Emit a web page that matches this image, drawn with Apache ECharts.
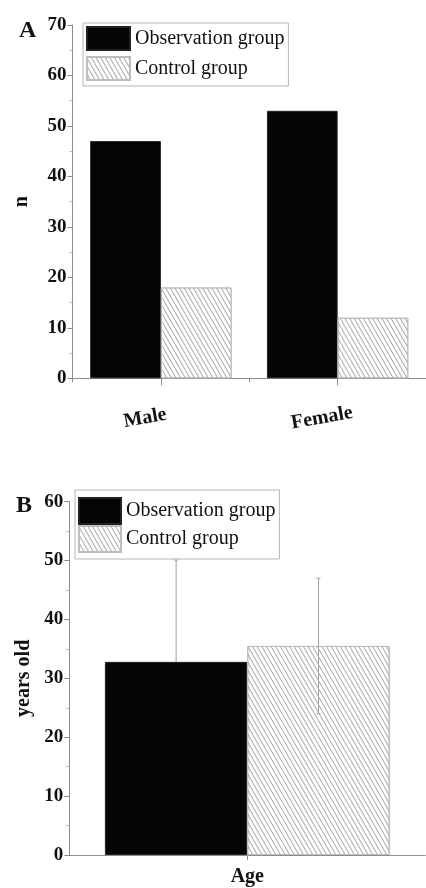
<!DOCTYPE html>
<html>
<head>
<meta charset="utf-8">
<script src="https://cdn.jsdelivr.net/npm/echarts@6/dist/echarts.min.js"></script>
<style>
html,body{margin:0;padding:0;background:#fff;}
#chart{width:426px;height:888px;}
</style>
</head>
<body>
<div id="chart"></div>
<script>
// ---- Data ----
const seriesNames = ['Observation group', 'Control group'];

// Panel A: counts by sex
const categoriesA = ['Male', 'Female'];
const observationCountA = [47, 53];
const controlCountA = [18, 12];
const yTicksA = [0, 10, 20, 30, 40, 50, 60, 70];

// Panel B: age (mean and SD)
const categoriesB = ['Age'];
const observationAgeMean = [32.8];
const observationAgeSD = [17.3];
const controlAgeMean = [35.5];
const controlAgeSD = [11.5];
const yTicksB = [0, 10, 20, 30, 40, 50, 60];

// ---- Styles ----
const FONT = "'Liberation Serif', 'Times New Roman', serif";
const AXIS_GRAY = '#8c8c8c';
const hatch = {
  symbol: 'rect',
  symbolSize: 1,
  dashArrayX: [1, 0],
  dashArrayY: [1, 3],
  rotation: Math.PI / 3,
  color: '#a9a9a9'
};
const obsStyle = { color: '#050505', borderColor: '#222', borderWidth: 1 };
const ctrlStyle = { color: 'rgba(255,255,255,0)', borderColor: '#bdbdbd', borderWidth: 1, decal: hatch };

function yAxisCommon(ticks, gridIndex, name, nameGap) {
  return {
    type: 'value', gridIndex,
    min: ticks[0], max: ticks[ticks.length - 1], interval: ticks[1] - ticks[0],
    name, nameLocation: 'middle', nameGap,
    nameTextStyle: { fontFamily: FONT, fontWeight: 'bold', fontSize: 20, color: '#111' },
    axisLine: { show: true, lineStyle: { color: AXIS_GRAY, width: 1 } },
    axisTick: { show: true, inside: false, length: 5, lineStyle: { color: AXIS_GRAY } },
    minorTick: { show: true, splitNumber: 2, length: 3, lineStyle: { color: '#bbb' } },
    splitLine: { show: false },
    axisLabel: { fontFamily: FONT, fontWeight: 'bold', fontSize: 19, color: '#111', margin: 6 }
  };
}

function errorBarSeries(name, xAxisIndex, yAxisIndex, means, sds, offsetFrac) {
  return {
    type: 'custom', name: name + ' SD', xAxisIndex, yAxisIndex, z: 1,
    silent: true,
    encode: { x: 0, y: 1 },
    data: means.map((m, i) => [i, m, sds[i]]),
    renderItem: function (params, api) {
      const cat = api.value(0), mean = api.value(1), sd = api.value(2);
      const band = api.size([1, 0])[0];
      const top = api.coord([cat, mean + sd]);
      const bot = api.coord([cat, mean - sd]);
      const x = top[0] + band * offsetFrac;
      const st = { stroke: '#a0a0a0', lineWidth: 1 };
      return {
        type: 'group',
        children: [
          { type: 'line', shape: { x1: x, y1: top[1], x2: x, y2: bot[1] }, style: st },
          { type: 'line', shape: { x1: x - 2, y1: top[1], x2: x + 2, y2: top[1] }, style: st },
          { type: 'line', shape: { x1: x - 2, y1: bot[1], x2: x + 2, y2: bot[1] }, style: st }
        ]
      };
    }
  };
}

const chart = echarts.init(document.getElementById('chart'), null, { renderer: 'canvas' });

const legendText = { fontFamily: FONT, fontSize: 20, color: '#111' };

const option = {
  animation: false,
  backgroundColor: '#fff',
  textStyle: { fontFamily: FONT },
  grid: [
    { left: 72.5, top: 25, width: 366, height: 353.3, containLabel: false },
    { left: 69.3, top: 501.7, width: 356, height: 353.3, containLabel: false }
  ],
  legend: [
    {
      data: seriesNames, orient: 'vertical', left: 83, top: 23, icon: 'rect',
      padding: [3, 4, 5, 3], itemWidth: 43, itemHeight: 23, itemGap: 5,
      borderColor: '#b5b5b5', borderWidth: 1,
      textStyle: legendText, selectedMode: false
    },
    {
      data: seriesNames, orient: 'vertical', left: 75, top: 490, icon: 'rect',
      padding: [7, 4, 6, 3], itemWidth: 42, itemHeight: 26, itemGap: 0,
      borderColor: '#b5b5b5', borderWidth: 1,
      textStyle: legendText, selectedMode: false
    }
  ],
  xAxis: [
    {
      type: 'category', gridIndex: 0, data: categoriesA,
      axisLine: { show: true, lineStyle: { color: AXIS_GRAY } },
      axisTick: { show: true, alignWithLabel: true, length: 7, lineStyle: { color: AXIS_GRAY } },
      axisLabel: {
        fontFamily: FONT, fontWeight: 'bold', fontSize: 20, color: '#111',
        rotate: 10, align: 'center', verticalAlign: 'middle', margin: 37,
        padding: [0, 32, 0, 0]
      }
    },
    {
      type: 'category', gridIndex: 0, data: categoriesA, position: 'bottom',
      axisLine: { show: false },
      axisTick: { show: true, length: 4, lineStyle: { color: AXIS_GRAY } },
      axisLabel: { show: false }
    },
    {
      type: 'category', gridIndex: 1, data: categoriesB,
      axisLine: { show: true, lineStyle: { color: AXIS_GRAY } },
      axisTick: { show: true, alignWithLabel: true, length: 5, lineStyle: { color: AXIS_GRAY } },
      axisLabel: { fontFamily: FONT, fontWeight: 'bold', fontSize: 20, color: '#111', margin: 12 }
    }
  ],
  yAxis: [
    yAxisCommon(yTicksA, 0, 'n', 41),
    yAxisCommon(yTicksB, 1, 'years old', 35)
  ],
  series: [
    {
      type: 'bar', name: seriesNames[0], xAxisIndex: 0, yAxisIndex: 0,
      data: observationCountA, itemStyle: obsStyle, barGap: '0%', barCategoryGap: '20%', z: 2
    },
    {
      type: 'bar', name: seriesNames[1], xAxisIndex: 0, yAxisIndex: 0,
      data: controlCountA, itemStyle: ctrlStyle, barGap: '0%', barCategoryGap: '20%', z: 2
    },
    errorBarSeries(seriesNames[0], 2, 1, observationAgeMean, observationAgeSD, -0.2),
    errorBarSeries(seriesNames[1], 2, 1, controlAgeMean, controlAgeSD, 0.2),
    {
      type: 'bar', name: seriesNames[0], xAxisIndex: 2, yAxisIndex: 1,
      data: observationAgeMean, itemStyle: obsStyle, barGap: '0%', barCategoryGap: '20%', z: 2
    },
    {
      type: 'bar', name: seriesNames[1], xAxisIndex: 2, yAxisIndex: 1,
      data: controlAgeMean, itemStyle: ctrlStyle, barGap: '0%', barCategoryGap: '20%', z: 2
    }
  ],
  graphic: [
    { type: 'text', left: 19, top: 19, style: { text: 'A', font: "bold 24px 'Liberation Serif', serif", fill: '#111' } },
    { type: 'text', left: 16, top: 494, style: { text: 'B', font: "bold 24px 'Liberation Serif', serif", fill: '#111' } }
  ]
};

chart.setOption(option);
</script>
</body>
</html>
